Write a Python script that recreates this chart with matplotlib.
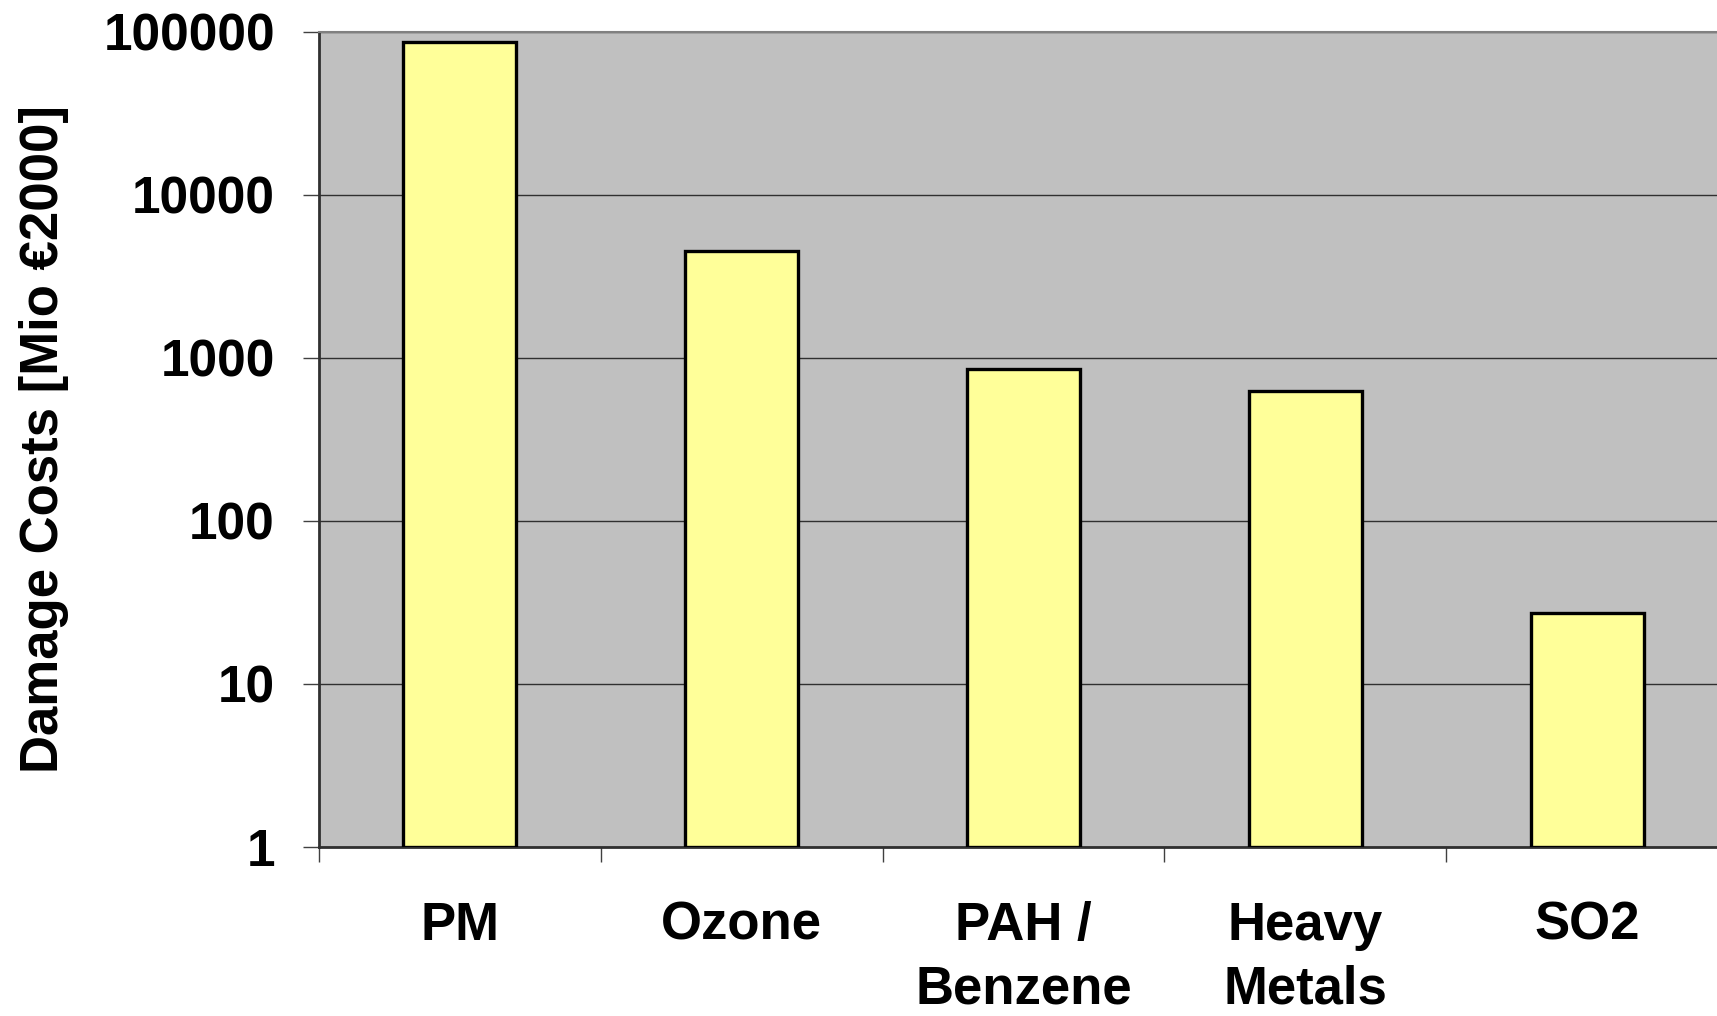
import numpy as np
import matplotlib
matplotlib.use("Agg")
import matplotlib.pyplot as plt
from matplotlib.ticker import FixedLocator, NullFormatter

# data
categories = ["PM", "Ozone", "PAH /\nBenzene", "Heavy\nMetals", "SO2"]
damage_costs = [87000, 4500, 850, 620, 26]
y_ticks = [1, 10, 100, 1000, 10000, 100000]

plt.rcParams['font.family'] = ['Liberation Sans', 'DejaVu Sans']

fig = plt.figure(figsize=(17.17, 10.16), dpi=100)
ax = fig.add_axes([0.1856, 0.1668, 0.8210, 0.8019])
ax.set_facecolor("#C0C0C0")

x = np.arange(len(categories))
ax.bar(x, damage_costs, width=0.4, bottom=1, color="#FFFF99",
       edgecolor="black", linewidth=2.4, zorder=3)

ax.set_yscale("log")
ax.set_ylim(1, 100000)
ax.set_xlim(-0.5, len(categories) - 0.5)

ax.yaxis.set_major_locator(FixedLocator(y_ticks))
ax.yaxis.set_minor_locator(FixedLocator([]))
ax.set_yticklabels([str(t) for t in y_ticks], fontsize=37, fontweight="bold")
ax.tick_params(axis="y", which="major", length=11.5, width=1, color="#404040", pad=20)
ax.grid(axis="y", color="#303030", linewidth=1, zorder=1)

# boundary ticks between categories, labels at centres
ax.xaxis.set_major_locator(FixedLocator(np.arange(len(categories) + 1) - 0.5))
ax.xaxis.set_major_formatter(NullFormatter())
ax.xaxis.set_minor_locator(FixedLocator(x))
ax.set_xticklabels(categories, minor=True, fontsize=38, fontweight="bold",
                   linespacing=1.36)
ax.tick_params(axis="x", which="major", length=11, width=1, color="#404040")
ax.tick_params(axis="x", which="minor", length=0, pad=39)

for s in ["left", "bottom"]:
    ax.spines[s].set_color("#303030")
    ax.spines[s].set_linewidth(2)
ax.spines["top"].set_color("#808080")
ax.spines["top"].set_linewidth(1.5)
ax.spines["right"].set_visible(False)

fig.text(0.0255, 0.5675, "Damage Costs [Mio €2000]", rotation=90,
         ha="center", va="center", fontsize=38, fontweight="bold")

fig.savefig("out.png", dpi=100)
